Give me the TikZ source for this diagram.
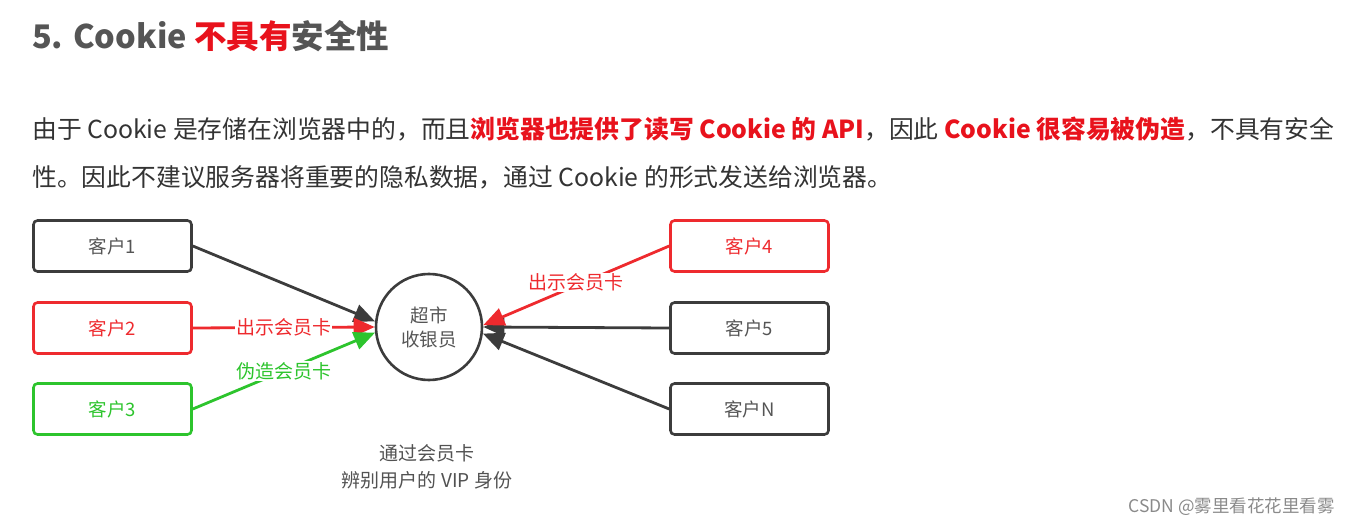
\documentclass[tikz,border=0pt]{standalone}
\usepackage{fontspec}
\setmainfont{Noto Sans CJK SC}
\usetikzlibrary{arrows.meta}
\definecolor{titlegray}{HTML}{555555}
\definecolor{textgray}{HTML}{333333}
\definecolor{hot}{HTML}{E8121C}
\definecolor{boxgray}{HTML}{3C3C3C}
\definecolor{lblgray}{HTML}{555555}
\definecolor{dred}{HTML}{EE2A2E}
\definecolor{dgreen}{HTML}{2DC42D}
\definecolor{wmgray}{HTML}{8A8A8A}
\begin{document}
\begin{tikzpicture}[x=1pt,y=-1pt,
  client/.style={draw=boxgray,line width=2.6pt,rounded corners=4pt,minimum width=158pt,minimum height=51pt,inner sep=0pt,text=lblgray,font=\fontsize{18.5}{20}\selectfont},
  redclient/.style={client,draw=dred,text=dred},
  greenclient/.style={client,draw=dgreen,text=dgreen},
  conn/.style={line width=2.8pt,-{Triangle[length=21pt,width=18pt]}},
  lbl/.style={fill=white,inner sep=1pt,font=\fontsize{19}{21}\selectfont}
]
\useasboundingbox (0,0) rectangle (1349,526);
% title
\node[anchor=base west,inner sep=0pt,text=titlegray,font=\fontsize{32.5}{36}\selectfont\bfseries] (title) at (32,49)
  {5. Cookie \textcolor{hot}{不具有}安全性};
% paragraph
\node[anchor=base west,inner sep=0pt,text=textgray,font=\fontsize{24.8}{28}\selectfont] (p1) at (32,139)
  {由于 Cookie 是存储在浏览器中的，而且\textcolor{hot}{\bfseries 浏览器也提供了读写 Cookie 的 API}，因此 \textcolor{hot}{\bfseries Cookie 很容易被伪造}，不具有安全};
\node[anchor=base west,inner sep=0pt,text=textgray,font=\fontsize{24.8}{28}\selectfont] (p2) at (32,187)
  {性。因此不建议服务器将重要的隐私数据，通过 Cookie 的形式发送给浏览器。};
% clients
\node[client] (c1) at (112.5,246) {客户1};
\node[redclient] (c2) at (112.5,328) {客户2};
\node[greenclient] (c3) at (112.5,409) {客户3};
\node[redclient] (c4) at (749.5,246) {客户4};
\node[client] (c5) at (749.5,328) {客户5};
\node[client] (cN) at (749.5,409) {客户N};
% cashier
\node[circle,draw=boxgray,line width=2.6pt,minimum size=106pt,inner sep=0pt,align=center,text=lblgray,font=\fontsize{18.5}{24}\selectfont] (cash) at (429,327) {超市\\收银员};
% connectors
\draw[conn,draw=boxgray,fill=boxgray] (c1.east) -- (cash.174);
\draw[conn,draw=dred,fill=dred] (c2.east) -- node[lbl,text=dred]{出示会员卡} (cash.west);
\draw[conn,draw=dgreen,fill=dgreen] (c3.east) -- node[lbl,text=dgreen,pos=0.5]{伪造会员卡} (cash.186);
\draw[conn,draw=boxgray,fill=boxgray] (c5.west) -- (cash.east);
\draw[conn,draw=boxgray,fill=boxgray] (cN.west) -- (cash.353);
\draw[conn,draw=dred,fill=dred] (c4.west) -- node[lbl,text=dred,pos=0.5,yshift=3pt]{出示会员卡} (cash.2);
% note
\node[align=center,text=textgray!85,font=\fontsize{19}{27}\selectfont] (note) at (427,467) {通过会员卡\\辨别用户的 VIP 身份};
% watermark
\node[anchor=base east,inner sep=0pt,text=wmgray,font=\fontsize{17.5}{20}\selectfont] (wm) at (1335,512) {CSDN @雾里看花花里看雾};
\end{tikzpicture}
\end{document}
